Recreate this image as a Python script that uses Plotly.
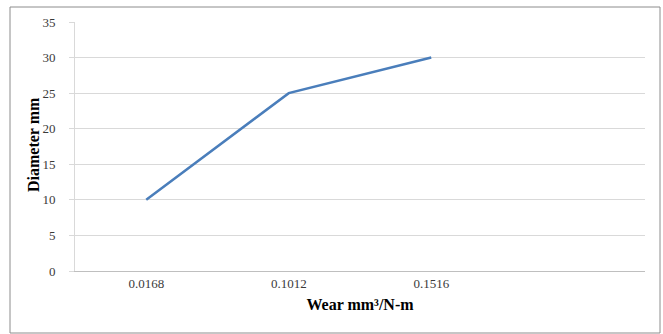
import plotly.graph_objects as go

categories = ["0.0168", "0.1012", "0.1516"]
diameter = [10, 25, 30]
y_ticks = [0, 5, 10, 15, 20, 25, 30, 35]

W, H = 663, 334
L, R, T, B = 75, 18, 22, 63
pw, ph = W - L - R, H - T - B

fig = go.Figure()
fig.add_trace(go.Scatter(
    x=categories, y=diameter, mode="lines",
    line=dict(color="#4a7ebb", width=2.5),
    showlegend=False, hoverinfo="skip",
))

font = "Liberation Serif, Times New Roman, serif"
fig.update_layout(
    width=W, height=H,
    margin=dict(l=L, r=R, t=T, b=B),
    paper_bgcolor="white", plot_bgcolor="white",
    font=dict(family=font, size=13, color="#333333"),
    xaxis=dict(
        type="category", range=[-0.5, 3.5],
        showgrid=False, showline=True, linecolor="#bfbfbf", linewidth=1,
        ticks="",
        tickfont=dict(size=13, family=font, color="#3a3a3a"),
        title=dict(text="<b>Wear mm³/N-m</b>", font=dict(size=16, family=font, color="#000000"), standoff=9),
        fixedrange=True,
    ),
    yaxis=dict(
        range=[0, 35], tickvals=y_ticks,
        showgrid=True, gridcolor="#d9d9d9", gridwidth=1,
        showline=True, linecolor="#d9d9d9", linewidth=1,
        ticks="outside", ticklen=5, tickcolor="#d9d9d9",
        ticklabelstandoff=11,
        tickfont=dict(size=13, family=font, color="#3a3a3a"),
        zeroline=False,
        fixedrange=True,
    ),
    annotations=[dict(
        text="<b>Diameter mm</b>", textangle=-90, showarrow=False,
        xref="paper", yref="paper", x=(33 - L) / pw, y=(H - B - 145) / ph,
        xanchor="center", yanchor="middle",
        font=dict(size=16, family=font, color="#000000"),
    )],
    shapes=[dict(
        type="rect", xref="paper", yref="paper",
        x0=(10 - L) / pw, x1=(660 - L) / pw,
        y0=(H - B - 333) / ph, y1=(H - B - 7) / ph,
        line=dict(color="#8c8c8c", width=1), fillcolor="rgba(0,0,0,0)", layer="below",
    )],
)

fig.write_html(
    "out.html",
    config={"displayModeBar": False},
    post_script="document.body.style.margin='0';document.body.style.overflow='hidden';",
)
